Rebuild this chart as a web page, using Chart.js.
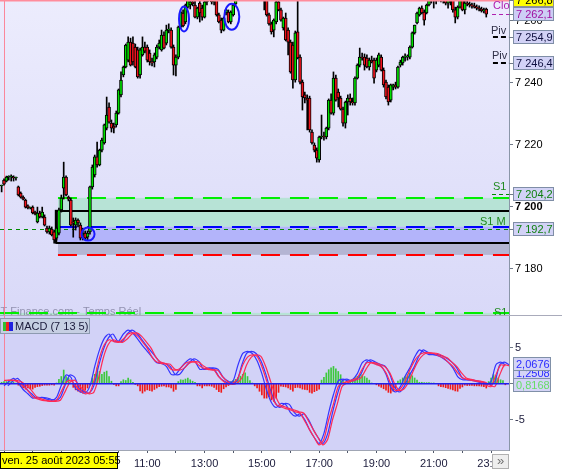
<!DOCTYPE html>
<html>
<head>
<meta charset="utf-8">
<script src="https://cdn.jsdelivr.net/npm/chart.js@4.4.0/dist/chart.umd.min.js"></script>
<style>
html, body { margin: 0; padding: 0; background: #fff; }
#wrap { position: relative; width: 562px; height: 469px; overflow: hidden; background: #fff; }
#wrap canvas { position: absolute; left: 0; }
#sep { position: absolute; left: 0; top: 315px; width: 562px; height: 1px; background: #a9abbb; }
</style>
</head>
<body>
<div id="wrap">
  <canvas id="priceChart" width="562" height="315" style="top:0"></canvas>
  <div id="sep"></div>
  <canvas id="macdChart" width="562" height="153" style="top:316px"></canvas>
</div>
<script>
const FONT = "'Liberation Sans', Arial, sans-serif";

// axe du temps en minutes depuis minuit
const X_MIN = 351.6;
const X_MAX = 1417.6;
const hourTicks = [6, 7, 8, 9, 10, 11, 12, 13, 14, 15, 16, 17, 18, 19, 20, 21, 22, 23];

// bougies 5 min depuis 05:55 : [ouverture, haut, bas, clôture]
const candleStart = 355;
const candleStep = 5;
const ohlc = [
  [7206.7,7207.0,7204.8,7206.7],[7208.6,7209.0,7207.0,7207.3],[7208.3,7209.9,7208.0,7209.6],[7209.6,7210.0,7208.6,7209.6],
  [7209.6,7210.3,7208.3,7209.6],[7209.6,7210.0,7208.3,7209.3],[7209.3,7209.6,7208.6,7209.3],[7206.4,7206.7,7203.5,7203.8],
  [7204.4,7204.8,7202.8,7203.1],[7203.1,7203.5,7202.2,7202.5],[7202.2,7202.5,7199.6,7199.9],[7200.3,7200.6,7199.3,7199.6],
  [7199.6,7199.9,7199.3,7199.6],[7199.9,7200.3,7197.7,7198.0],[7198.3,7198.6,7197.4,7197.7],[7195.1,7199.9,7194.8,7198.0],
  [7198.0,7198.6,7196.4,7196.7],[7196.7,7199.9,7196.4,7198.3],[7196.7,7197.4,7193.8,7194.1],[7193.1,7193.8,7191.5,7191.9],
  [7191.9,7193.8,7191.2,7193.1],[7192.8,7193.5,7190.6,7190.9],[7191.9,7192.5,7188.3,7189.3],[7189.9,7193.5,7189.3,7193.1],
  [7191.5,7199.6,7190.9,7199.0],[7199.0,7203.8,7198.3,7202.8],[7206.0,7214.4,7202.5,7209.6],[7209.6,7210.0,7203.5,7203.8],
  [7203.1,7203.5,7201.9,7202.5],[7202.2,7202.8,7193.8,7194.1],[7195.1,7196.4,7190.2,7194.8],[7194.1,7196.4,7192.5,7195.7],
  [7195.7,7196.1,7193.5,7194.8],[7194.1,7194.8,7189.3,7189.9],[7190.9,7193.1,7189.3,7191.5],[7191.5,7192.2,7189.3,7189.9],
  [7190.2,7192.2,7189.3,7191.5],[7191.9,7206.7,7191.2,7206.4],[7206.4,7213.5,7205.7,7212.8],[7210.3,7216.7,7209.6,7216.1],
  [7216.1,7220.9,7212.8,7213.5],[7213.5,7218.6,7213.2,7218.3],[7218.3,7222.2,7217.7,7221.5],[7220.6,7226.7,7220.2,7226.4],
  [7225.4,7235.4,7224.8,7229.6],[7232.2,7233.5,7227.0,7227.3],[7227.0,7228.0,7224.1,7225.4],[7226.0,7227.0,7223.8,7225.4],
  [7226.4,7230.9,7225.7,7230.2],[7230.2,7238.0,7229.9,7237.7],[7236.1,7243.5,7235.4,7240.9],[7242.5,7245.4,7241.9,7245.1],
  [7245.1,7252.5,7244.8,7252.2],[7247.3,7254.8,7246.7,7253.1],[7253.1,7254.4,7245.4,7245.7],[7252.8,7254.8,7245.7,7246.7],
  [7251.5,7252.5,7244.8,7245.1],[7250.6,7251.5,7241.5,7241.9],[7242.5,7251.2,7241.5,7250.6],[7249.0,7254.8,7248.6,7251.5],
  [7251.5,7253.1,7249.6,7250.2],[7251.5,7252.2,7246.7,7247.3],[7249.6,7250.6,7245.7,7246.7],[7246.7,7248.0,7245.4,7246.4],
  [7246.7,7249.6,7245.1,7249.0],[7248.3,7252.2,7247.7,7251.5],[7251.5,7253.8,7250.9,7252.8],[7250.6,7257.0,7250.2,7255.4],
  [7255.4,7256.4,7250.9,7251.2],[7252.8,7258.6,7252.2,7257.0],[7257.0,7259.0,7256.1,7257.3],[7257.0,7257.7,7251.2,7251.5],
  [7251.5,7252.2,7242.5,7245.7],[7245.7,7249.0,7242.2,7248.3],[7248.3,7258.3,7247.7,7258.0],[7258.0,7263.2,7257.7,7262.8],
  [7262.5,7263.5,7258.0,7258.3],[7259.6,7265.4,7259.0,7265.1],[7264.4,7267.5,7264.1,7266.7],[7265.1,7267.3,7263.8,7266.1],
  [7266.1,7268.0,7264.8,7265.4],[7265.1,7266.4,7260.9,7261.2],[7261.2,7264.4,7260.6,7264.1],[7265.7,7266.7,7259.6,7262.5],
  [7264.1,7265.1,7260.2,7261.2],[7261.2,7266.4,7260.9,7266.1],[7266.1,7268.5,7265.1,7267.3],[7267.3,7269.5,7266.7,7268.8],
  [7268.5,7269.0,7265.4,7266.1],[7266.1,7267.5,7265.1,7266.7],[7266.7,7267.3,7261.5,7261.9],[7261.9,7262.5,7259.3,7259.6],
  [7260.2,7260.9,7256.1,7257.0],[7257.0,7261.2,7256.7,7260.9],[7262.5,7263.8,7261.9,7263.5],[7262.8,7263.5,7259.3,7259.6],
  [7259.6,7263.2,7259.0,7262.8],[7261.9,7265.4,7261.5,7265.1],[7265.4,7269.0,7265.1,7268.5],[7268.5,7272.0,7268.0,7271.5],
  [7271.5,7274.0,7270.5,7273.0],[7273.0,7275.5,7271.5,7272.0],[7272.0,7274.0,7270.0,7273.5],[7273.5,7276.0,7272.5,7275.0],
  [7275.0,7276.5,7272.0,7272.5],[7272.5,7274.5,7270.5,7271.0],[7271.0,7273.0,7269.5,7272.5],[7272.5,7273.5,7269.0,7269.5],
  [7269.5,7271.0,7268.0,7270.0],[7270.0,7271.5,7267.5,7268.0],[7268.0,7269.0,7263.5,7267.5],[7266.7,7267.5,7261.5,7261.9],
  [7261.9,7262.5,7258.6,7259.0],[7259.0,7259.6,7255.7,7256.4],[7257.0,7260.6,7254.8,7260.2],[7259.6,7266.4,7259.0,7266.1],
  [7266.1,7266.7,7263.2,7263.5],[7263.5,7264.1,7259.9,7260.2],[7257.7,7261.2,7257.0,7260.9],[7260.9,7262.5,7253.5,7253.8],
  [7257.0,7257.7,7249.0,7253.1],[7253.1,7253.8,7243.1,7243.5],[7252.2,7253.1,7238.3,7240.9],[7240.9,7256.7,7240.2,7256.1],
  [7256.4,7267.5,7247.7,7248.0],[7248.3,7249.0,7239.6,7240.2],[7240.2,7240.9,7231.2,7235.4],[7236.1,7237.0,7233.5,7235.1],
  [7235.1,7236.1,7224.8,7234.4],[7235.1,7235.7,7224.1,7224.8],[7224.1,7224.8,7220.2,7220.6],[7219.9,7220.6,7217.7,7218.3],
  [7218.3,7219.0,7214.4,7215.7],[7215.1,7222.8,7214.4,7222.5],[7222.5,7229.6,7221.9,7222.8],[7222.8,7224.1,7221.5,7222.5],
  [7222.5,7225.7,7221.9,7225.4],[7225.4,7234.8,7224.8,7234.4],[7234.4,7236.4,7229.9,7230.2],[7230.2,7243.5,7229.6,7241.5],
  [7241.5,7242.5,7234.1,7234.4],[7237.0,7238.0,7232.2,7235.1],[7235.1,7235.7,7231.2,7231.5],[7231.5,7232.2,7226.0,7227.0],
  [7227.0,7234.1,7225.4,7233.8],[7233.8,7236.1,7229.6,7235.1],[7235.1,7236.4,7232.8,7233.8],[7233.8,7235.1,7232.8,7233.5],
  [7233.5,7241.9,7232.8,7241.5],[7241.5,7246.1,7241.2,7245.7],[7245.7,7251.2,7245.1,7248.3],[7248.3,7249.6,7247.3,7248.0],
  [7248.3,7249.3,7244.1,7245.7],[7248.0,7249.0,7244.8,7245.1],[7245.1,7248.0,7244.1,7247.3],[7247.3,7248.6,7246.4,7246.7],
  [7247.3,7248.0,7239.9,7241.5],[7244.1,7248.0,7243.5,7247.3],[7245.7,7249.6,7245.1,7249.0],[7248.3,7249.0,7243.8,7244.1],
  [7244.1,7244.8,7238.6,7239.3],[7240.2,7240.9,7234.8,7235.4],[7238.6,7239.3,7232.8,7233.8],[7234.4,7239.6,7233.8,7239.3],
  [7238.6,7239.6,7237.7,7239.3],[7239.3,7240.2,7238.0,7238.6],[7238.6,7245.4,7238.3,7245.1],[7245.7,7247.3,7245.1,7246.7],
  [7246.4,7248.6,7245.7,7248.3],[7248.3,7249.3,7247.0,7248.6],[7248.3,7249.0,7247.3,7248.3],[7248.3,7251.9,7247.7,7251.5],
  [7251.5,7256.4,7251.2,7256.1],[7256.1,7258.6,7255.7,7258.6],[7259.3,7262.8,7259.0,7262.5],[7261.9,7264.4,7261.5,7264.1],
  [7264.1,7264.8,7262.2,7262.5],[7262.8,7263.5,7258.6,7260.2],[7262.5,7265.4,7262.2,7265.1],[7265.1,7267.5,7264.8,7267.0],
  [7267.0,7269.0,7265.7,7268.0],[7268.0,7269.5,7264.1,7266.4],[7266.4,7268.0,7265.4,7267.5],[7267.5,7270.0,7266.4,7269.0],
  [7269.0,7270.5,7266.1,7266.7],[7266.7,7268.5,7265.7,7268.0],[7268.0,7269.0,7265.1,7265.7],[7265.7,7267.5,7264.1,7266.7],
  [7266.7,7268.5,7265.1,7267.8],[7267.8,7268.5,7262.8,7263.5],[7263.5,7264.4,7259.3,7261.2],[7261.2,7264.8,7260.6,7264.4],
  [7264.4,7267.5,7264.1,7267.0],[7267.0,7267.5,7263.2,7263.5],[7263.5,7266.4,7262.2,7265.7],[7265.7,7266.4,7264.8,7265.4],
  [7265.4,7266.1,7264.4,7265.1],[7265.1,7265.7,7264.1,7264.8],[7264.8,7265.7,7264.1,7264.4],[7264.4,7265.1,7263.5,7264.1],
  [7264.1,7264.8,7263.2,7263.8],[7263.8,7264.4,7262.8,7263.2],[7263.2,7264.1,7262.5,7263.5],[7263.8,7264.1,7261.2,7262.1]
];

const priceMin = 7165.1;
const priceMax = 7266.7;
const priceTicks = [7180, 7200, 7220, 7240, 7260];
const priceTags = [7266.8, 7262.1, 7254.9, 7246.4, 7204.2, 7192.7];

// niveaux et zone S1
const levelGreen = 7202.9;
const levelBoxTop = 7198.7;
const levelBlue = 7193.6;
const levelS1M = 7192.7;
const levelBoxBottom = 7188.4;
const levelRed = 7184.5;
const levelS1Low = 7165.8;
const zoneStart = 473;
const boxStart = 469;
const sessionStart = 360;

// MACD (7 13 5)
const histogram = [
  0.2,0.3,0.3,0.4,0.3,0.2,0.1,-0.2,-0.4,-0.6,
  -0.75,-0.6,-0.7,-0.75,-0.5,-0.4,-0.35,-0.25,-0.2,-0.2,
  -0.2,-0.15,-0.2,0.1,0.6,1.0,1.9,1.0,0.8,0.1,
  -0.5,-0.85,-1.05,-1.2,-1.3,-0.9,-0.6,-0.2,0.8,1.3,
  2.2,1.7,1.3,1.6,1.75,1.0,0.35,-0.1,-0.3,-0.3,
  0.3,0.55,0.45,0.8,0.55,0.2,-0.1,-0.3,-1.0,-1.3,
  -1.05,-0.85,-0.95,-1.05,-0.8,-0.6,-0.4,-0.35,-0.3,-0.45,
  -0.45,-0.6,-1.05,-0.8,0.3,0.55,0.5,0.65,0.8,0.55,
  0.35,0.2,-0.3,-0.3,-0.6,-0.3,-0.3,-0.3,-0.35,-0.5,
  -0.8,-1.1,-1.2,-0.7,-0.45,-0.25,0.3,0.45,0.6,0.85,
  1.05,1.3,1.5,1.0,0.45,0.1,-0.3,-0.6,-1.05,-1.55,
  -2.0,-2.0,-1.8,-2.25,-2.45,-2.0,-1.2,-0.35,-0.4,-0.45,
  -0.6,-0.8,-1.05,-0.55,-0.5,-0.6,-0.75,-0.8,-0.85,-1.2,
  -1.3,-1.1,-0.95,-0.75,0.5,0.9,1.5,1.95,2.2,2.4,
  2.05,1.7,1.25,0.55,0.2,0.1,0.4,0.6,0.85,1.05,
  1.2,1.25,1.0,0.8,0.5,0.1,0.05,-0.15,-0.35,-0.5,
  -0.7,-0.9,-1.2,-1.3,-1.05,-0.6,0.35,0.55,0.8,1.0,
  1.25,1.5,1.1,0.8,0.5,0.2,0.2,0.15,0.15,0.15,
  0.1,0.1,0.05,-0.3,-0.4,-0.45,-0.55,-0.65,-0.75,-0.85,
  -1.0,-1.05,-0.65,-0.45,-0.2,-0.25,-0.25,-0.25,-0.3,-0.3,
  -0.3,-0.35,-0.4,-0.6,0.3,0.8,1.25,1.1,0.8,0.55,
  0.45,-0.15
];

// lignes MACD / signal, un point toutes les 10 min depuis 06:00
const lineStart = 360;
const lineStep = 10;
const macdLine = [
  -0.3,0.3,0.75,0.1,-0.8,-1.4,-2.0,-1.9,-1.95,-2.15,
  -2.3,-1.9,-0.2,1.2,0.9,-0.7,-1.1,-1.3,-0.3,2.4,
  4.7,6.3,6.9,5.9,5.9,6.9,7.45,7.0,6.2,5.3,
  4.5,3.7,2.9,2.8,2.4,1.3,1.3,2.2,2.95,3.45,
  3.1,2.0,2.1,2.2,2.0,1.0,0.4,0.1,0.4,2.6,
  4.2,4.5,4.2,3.2,1.4,-0.9,-2.6,-3.3,-2.75,-2.9,
  -4.0,-4.5,-4.2,-5.0,-6.4,-7.5,-8.3,-6.9,-4.0,-1.5,
  0.4,0.65,0.4,0.6,1.4,2.9,3.3,3.0,2.7,2.45,
  1.3,-0.5,-1.15,-0.4,1.05,2.2,3.7,4.7,4.35,4.05,
  4.05,3.85,3.5,3.0,2.2,1.0,0.55,0.55,0.45,0.3,
  0.1,-0.1,0.3,2.6,3.0,2.6
];
const signalLine = [
  0.45,0.5,0.45,0.2,-0.3,-0.95,-1.8,-2.1,-2.3,-2.4,
  -2.45,-2.3,-1.1,0.2,0.5,-0.3,-0.95,-1.4,-1.2,0.8,
  3.6,5.4,6.1,5.85,5.75,6.2,6.9,7.05,6.6,5.8,
  4.95,3.7,3.0,2.8,2.7,2.0,1.9,2.2,2.85,3.05,
  3.0,2.45,2.1,1.95,1.85,0.95,0.3,-0.1,0.1,0.8,
  2.6,3.7,4.0,3.8,2.4,0.4,-1.6,-2.9,-3.2,-3.45,
  -3.65,-3.9,-4.1,-5.2,-6.4,-7.5,-8.5,-7.7,-5.0,-2.8,
  -0.4,0.1,0.35,0.55,0.85,2.0,2.9,2.9,2.65,2.35,
  1.5,0.0,-0.95,-0.7,0.35,1.9,3.2,4.0,4.3,4.25,
  4.2,3.9,3.6,3.0,2.4,1.5,0.8,0.6,0.45,0.35,
  0.2,-0.2,-0.4,1.2,2.6,2.5
];
const macdMin = -9.2;
const macdMax = 9.4;
const macdTicks = [-5, 0, 5];
const macdTags = [2.0676, 1.2508, 0.8168];
const LAG = 8; // décalage du tracé doublé

function fmtPrice(v, dec) {
  const parts = v.toFixed(dec).split('.');
  const ent = parts[0].replace(/\B(?=(\d{3})+(?!\d))/g, ' ');
  return parts[1] ? ent + ',' + parts[1] : ent;
}

function hLine(ctx, y, x0, x1, color, width, dash) {
  ctx.save();
  ctx.strokeStyle = color;
  ctx.lineWidth = width;
  ctx.setLineDash(dash || []);
  ctx.beginPath();
  ctx.moveTo(x0, y);
  ctx.lineTo(x1, y);
  ctx.stroke();
  ctx.restore();
}

function tagBox(ctx, x, y, w, text, fill, stroke, color) {
  ctx.save();
  ctx.fillStyle = fill;
  ctx.fillRect(x, y - 7, w, 14);
  ctx.strokeStyle = stroke;
  ctx.lineWidth = 1;
  ctx.strokeRect(x + 0.5, y - 6.5, w - 1, 13);
  ctx.fillStyle = color;
  ctx.font = '11px ' + FONT;
  ctx.textAlign = 'left';
  ctx.textBaseline = 'middle';
  ctx.fillText(text, x + 3, y + 0.5);
  ctx.restore();
}

function label(ctx, text, x, y, color) {
  ctx.save();
  ctx.font = '11px ' + FONT;
  ctx.fillStyle = color;
  ctx.textAlign = 'left';
  ctx.textBaseline = 'middle';
  ctx.fillText(text, x, y);
  ctx.restore();
}

const priceDecor = {
  id: 'priceDecor',
  beforeDraw(chart) {
    const { ctx, chartArea: a } = chart;
    ctx.save();
    ctx.fillStyle = '#fff';
    ctx.fillRect(0, 0, chart.width, chart.height);
    const g = ctx.createLinearGradient(0, a.top, 0, a.bottom);
    g.addColorStop(0, '#ececfd');
    g.addColorStop(1, '#d9d9f8');
    ctx.fillStyle = g;
    ctx.fillRect(a.left, a.top, a.right - a.left, a.bottom - a.top);
    ctx.restore();
  },
  beforeDatasetsDraw(chart) {
    const { ctx, chartArea: a } = chart;
    const px = v => chart.scales.x.getPixelForValue(v);
    const py = v => chart.scales.y.getPixelForValue(v);
    const xs = px(zoneStart);
    ctx.save();
    ctx.fillStyle = '#b7e3d6';
    ctx.fillRect(xs, py(levelGreen), a.right - xs, py(levelBlue) - py(levelGreen));
    ctx.fillStyle = '#b3b4fa';
    ctx.fillRect(xs, py(levelBlue), a.right - xs, py(levelBoxBottom) - py(levelBlue));
    ctx.fillStyle = '#b4b5d3';
    ctx.fillRect(xs, py(levelBoxBottom), a.right - xs, py(levelRed) - py(levelBoxBottom));
    ctx.fillStyle = '#b7e3d6';
    ctx.fillRect(a.left, py(levelS1Low), a.right - a.left, a.bottom - py(levelS1Low));
    ctx.restore();

    // filigrane
    ctx.save();
    ctx.font = '11px ' + FONT;
    ctx.fillStyle = 'rgba(120,120,150,0.75)';
    ctx.textBaseline = 'middle';
    ctx.fillText('IT-Finance.com - Temps Réel', -2.5, 311.5);
    ctx.restore();

    hLine(ctx, Math.round(py(levelGreen)), xs, a.right, '#00ee00', 2, [19, 10]);
    hLine(ctx, Math.round(py(levelBlue)), xs, a.right, '#0000ff', 2, [19, 10]);
    hLine(ctx, Math.round(py(levelS1M)) + 0.5, a.left, a.right + 4, '#008a00', 1, [4, 4]);
    hLine(ctx, Math.round(py(levelRed)), xs, a.right, '#ff0000', 2, [19, 10]);
    hLine(ctx, Math.round(py(levelS1Low)), a.left, a.right, '#00ee00', 2, [19, 10]);
    const xb = px(boxStart);
    hLine(ctx, Math.round(py(levelBoxTop)), xb, a.right, '#000', 2);
    hLine(ctx, Math.round(py(levelBoxBottom)), xb, a.right, '#000', 2);
    ctx.save();
    ctx.strokeStyle = '#000';
    ctx.lineWidth = 2.5;
    ctx.beginPath();
    ctx.moveTo(xb, py(levelBoxTop) - 1);
    ctx.lineTo(xb, py(levelBoxBottom) + 1);
    ctx.stroke();
    ctx.restore();

    // début de séance
    ctx.save();
    ctx.strokeStyle = 'rgba(255,110,130,0.8)';
    ctx.lineWidth = 1;
    const xv = Math.round(px(sessionStart)) + 0.5;
    ctx.beginPath();
    ctx.moveTo(xv, a.top);
    ctx.lineTo(xv, a.bottom);
    ctx.stroke();
    ctx.restore();
  },
  afterDatasetsDraw(chart) {
    const { ctx, chartArea: a } = chart;
    const px = v => chart.scales.x.getPixelForValue(v);
    const py = v => chart.scales.y.getPixelForValue(v);

    ctx.save();
    ctx.fillStyle = '#ff8c9c';
    ctx.fillRect(a.left, 0, a.right - a.left, 1.5);
    ctx.restore();

    // cercles tracés à la main
    ctx.save();
    ctx.strokeStyle = '#1a1aff';
    ctx.lineWidth = 2;
    [[737, 7260.6, 5, 12.5], [837, 7261.3, 7.5, 13], [536, 7191.2, 6.5, 6.5]].forEach(c => {
      ctx.beginPath();
      ctx.ellipse(px(c[0]), py(c[1]), c[2], c[3], 0, 0, Math.PI * 2);
      ctx.stroke();
    });
    ctx.restore();

    // repères à droite
    hLine(ctx, Math.round(py(priceTags[1])) + 0.5, px(1382), a.right, '#b020b0', 1, [4, 3]);
    hLine(ctx, Math.round(py(priceTags[2])), px(1384), a.right, '#000', 2, [5, 3]);
    hLine(ctx, Math.round(py(priceTags[3])), px(1384), a.right, '#000', 2, [5, 3]);
    hLine(ctx, Math.round(py(priceTags[4])) + 0.5, px(1382), a.right + 4, '#008a00', 1, [4, 3]);
    label(ctx, 'Clo', 493, py(priceTags[1]) - 8, '#b020b0');
    label(ctx, 'Piv', 491, py(priceTags[2]) - 6, '#303048');
    label(ctx, 'Piv', 492, py(priceTags[3]) - 7, '#303048');
    label(ctx, 'S1', 493, py(priceTags[4]) - 7, '#208a20');
    label(ctx, 'S1 M', 480, py(levelS1M) - 7, '#208a20');
    label(ctx, 'S1', 494, py(levelS1Low), '#208a20');
  },
  afterDraw(chart) {
    const { ctx, chartArea: a } = chart;
    const py = v => chart.scales.y.getPixelForValue(v);
    const styles = [
      ['#ffff00', '#909090', '#000'],
      ['#cdcdf5', '#7f8ea6', '#a010a0'],
      ['#d2d2f6', '#7f8ea6', '#101040'],
      ['#d2d2f6', '#7f8ea6', '#101040'],
      ['#d2d2f6', '#7f8ea6', '#108010'],
      ['#d2d2f6', '#7f8ea6', '#108010']
    ];
    priceTags.forEach((v, i) => {
      const y = Math.round(py(v));
      hLine(ctx, y + 0.5, a.right, a.right + 4, '#707a88', 1);
      tagBox(ctx, a.right + 4, y, 41, fmtPrice(v, 1), styles[i][0], styles[i][1], styles[i][2]);
    });
  }
};

new Chart(document.getElementById('priceChart'), {
  type: 'bar',
  data: {
    datasets: [
      {
        label: 'mèches',
        data: ohlc.map((c, i) => ({ x: candleStart + candleStep * i, y: [c[2], c[1]] })),
        backgroundColor: '#000',
        barThickness: 1,
        grouped: false,
        clip: 0,
        order: 2
      },
      {
        label: 'corps',
        data: ohlc.map((c, i) => ({ x: candleStart + candleStep * i, y: [c[0], c[3]] })),
        backgroundColor: ohlc.map(c => c[3] >= c[0] ? '#00e000' : '#f0141e'),
        borderColor: '#000',
        borderWidth: 1,
        borderSkipped: false,
        barThickness: 3,
        minBarLength: 1,
        grouped: false,
        clip: 0,
        order: 1
      }
    ]
  },
  options: {
    responsive: false,
    animation: false,
    devicePixelRatio: 1,
    events: [],
    layout: { padding: 0 },
    plugins: { legend: { display: false }, tooltip: { enabled: false } },
    scales: {
      x: { type: 'linear', min: X_MIN, max: X_MAX, offset: false, display: false },
      y: {
        type: 'linear',
        position: 'right',
        min: priceMin,
        max: priceMax,
        beginAtZero: false,
        afterBuildTicks: s => { s.ticks = priceTicks.map(v => ({ value: v })); },
        afterFit: s => { s.width = 53; s.paddingTop = 0; s.paddingBottom = 0; },
        ticks: {
          color: '#000',
          padding: 2,
          font: c => ({ family: FONT, size: 11, weight: c.tick && c.tick.value === 7200 ? 'bold' : 'normal' }),
          callback: v => fmtPrice(v, 0)
        },
        grid: { drawOnChartArea: false, tickLength: 4, color: '#707a88' },
        border: { color: '#8a96a8' }
      }
    }
  },
  plugins: [priceDecor]
});

const macdDecor = {
  id: 'macdDecor',
  beforeDraw(chart) {
    const { ctx, chartArea: a } = chart;
    ctx.save();
    ctx.fillStyle = '#fff';
    ctx.fillRect(0, 0, chart.width, chart.height);
    ctx.fillStyle = '#d2d2f7';
    ctx.fillRect(a.left, a.top, a.right - a.left, a.bottom - a.top);
    ctx.restore();
  },
  beforeDatasetsDraw(chart) {
    const { ctx, chartArea: a } = chart;
    const xv = Math.round(chart.scales.x.getPixelForValue(sessionStart)) + 0.5;
    ctx.save();
    ctx.strokeStyle = 'rgba(255,110,130,0.8)';
    ctx.lineWidth = 1;
    ctx.beginPath();
    ctx.moveTo(xv, a.top);
    ctx.lineTo(xv, a.bottom);
    ctx.stroke();
    ctx.restore();
  },
  afterDatasetsDraw(chart) {
    const { ctx, chartArea: a } = chart;
    const y0 = chart.scales.y.getPixelForValue(0);
    hLine(ctx, y0, a.left, a.right, '#2020ee', 1.5);
  },
  afterDraw(chart) {
    const { ctx, chartArea: a } = chart;
    const py = v => chart.scales.y.getPixelForValue(v);

    // légende
    ctx.save();
    ctx.fillStyle = '#c6cfe3';
    ctx.fillRect(0, 2, 90, 16);
    ctx.strokeStyle = '#8d9ab0';
    ctx.strokeRect(0.5, 2.5, 89, 15);
    ctx.fillStyle = '#30c030'; ctx.fillRect(3, 6, 3, 9);
    ctx.fillStyle = '#f02020'; ctx.fillRect(6, 6, 3, 9);
    ctx.fillStyle = '#2020e0'; ctx.fillRect(9, 6, 4, 9);
    ctx.restore();
    label(ctx, 'MACD (7 13 5)', 15, 10.5, '#1a1a3a');

    // valeurs courantes
    const nudges = [-5, -2, 7];
    const colors = ['#2a2aff', '#2a2aff', '#66dd66'];
    [1, 0, 2].forEach(i => {
      const y = Math.round(py(macdTags[i]) + nudges[i]);
      tagBox(ctx, a.right + 4, y, 38, macdTags[i].toFixed(4).replace('.', ','), '#d4d4f6', '#8090a8', colors[i]);
    });

    // date de début
    ctx.save();
    ctx.fillStyle = '#ffff00';
    ctx.fillRect(0, a.bottom + 2, 118, chart.height - a.bottom - 2);
    ctx.strokeStyle = '#000';
    ctx.strokeRect(0.5, a.bottom + 2.5, 117, chart.height - a.bottom - 3);
    ctx.restore();
    label(ctx, 'ven. 25 août 2023 05:55', 2, a.bottom + 11, '#000');

    // bouton de défilement
    ctx.save();
    ctx.fillStyle = '#eeeeee';
    ctx.fillRect(a.right - 17, a.bottom + 4, 17, chart.height - a.bottom - 4);
    ctx.strokeStyle = '#b0b0b0';
    ctx.strokeRect(a.right - 16.5, a.bottom + 4.5, 16, chart.height - a.bottom - 5);
    ctx.restore();
    ctx.save();
    ctx.font = '13px ' + FONT;
    ctx.fillStyle = '#707070';
    ctx.textAlign = 'center';
    ctx.textBaseline = 'middle';
    ctx.fillText('»', a.right - 8.5, a.bottom + 11);
    ctx.restore();
  }
};

const lineOpts = (data, color, axis) => ({
  type: 'line',
  data: data.map((v, i) => ({ x: lineStart + lineStep * i, y: v })),
  borderColor: color,
  borderWidth: 1.2,
  pointRadius: 0,
  tension: 0.25,
  xAxisID: axis,
  order: 1
});

new Chart(document.getElementById('macdChart'), {
  type: 'bar',
  data: {
    datasets: [
      {
        label: 'histogramme',
        data: histogram.map((v, i) => ({ x: candleStart + candleStep * i, y: v })),
        backgroundColor: histogram.map(v => v >= 0 ? '#3cc83c' : '#f01a1a'),
        barThickness: 1,
        grouped: false,
        xAxisID: 'x',
        order: 5
      },
      lineOpts(signalLine, '#ff2a55', 'x'),
      lineOpts(signalLine, '#ff2a55', 'xl'),
      lineOpts(macdLine, '#3535ff', 'x'),
      lineOpts(macdLine, '#3535ff', 'xl')
    ]
  },
  options: {
    responsive: false,
    animation: false,
    devicePixelRatio: 1,
    events: [],
    layout: { padding: 0 },
    plugins: { legend: { display: false }, tooltip: { enabled: false } },
    scales: {
      x: {
        type: 'linear',
        position: 'bottom',
        min: X_MIN,
        max: X_MAX,
        offset: false,
        afterBuildTicks: s => { s.ticks = hourTicks.map(h => ({ value: h * 60 })); },
        afterFit: s => { s.height = 19; s.paddingLeft = 0; s.paddingRight = 0; },
        ticks: {
          autoSkip: false,
          maxRotation: 0,
          minRotation: 0,
          padding: 4,
          color: '#1a1a3a',
          font: { family: FONT, size: 11 },
          callback: v => {
            const h = Math.round(v / 60);
            return h % 2 ? String(h).padStart(2, '0') + ':00' : '';
          }
        },
        grid: { drawOnChartArea: false, offset: false, tickLength: 3, color: '#50586a' },
        border: { color: '#a0a6b4' }
      },
      xl: { type: 'linear', display: false, min: X_MIN - LAG, max: X_MAX - LAG, offset: false },
      y: {
        type: 'linear',
        position: 'right',
        min: macdMin,
        max: macdMax,
        beginAtZero: false,
        afterBuildTicks: s => { s.ticks = macdTicks.map(v => ({ value: v })); },
        afterFit: s => { s.width = 53; s.paddingTop = 0; s.paddingBottom = 0; },
        ticks: { color: '#1a1a3a', padding: 2, font: { family: FONT, size: 11 }, callback: v => String(v) },
        grid: { drawOnChartArea: false, tickLength: 4, color: '#707a88' },
        border: { color: '#8a96a8' }
      }
    }
  },
  plugins: [macdDecor]
});
</script>
</body>
</html>
